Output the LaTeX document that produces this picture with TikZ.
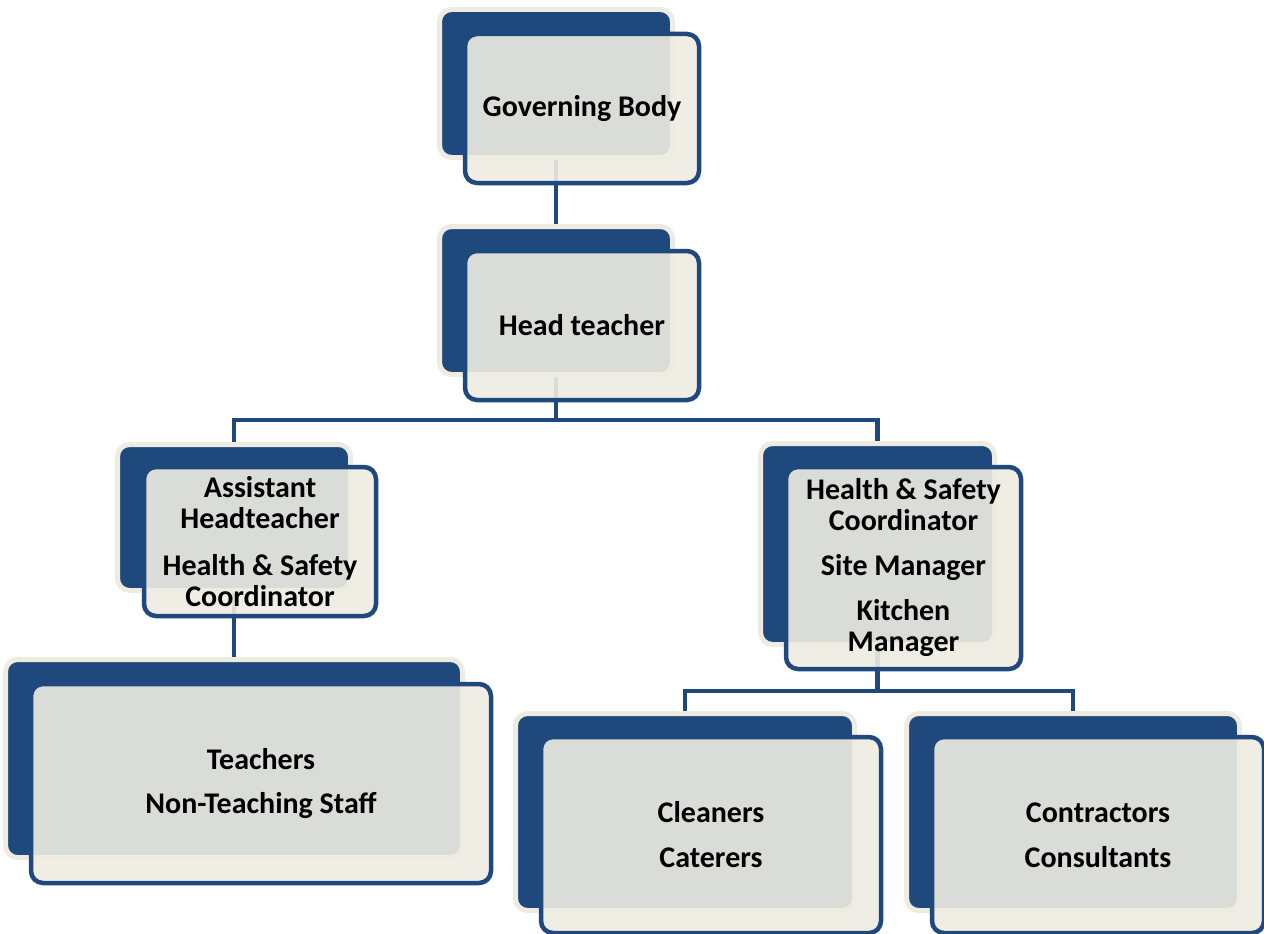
\documentclass[tikz,border=0pt]{standalone}
\usepackage{fontspec}
\setmainfont{Carlito}
\usetikzlibrary{backgrounds}
\definecolor{darkblue}{HTML}{1F497D}
\definecolor{cream}{HTML}{EEECE1}

\begin{document}
\begin{tikzpicture}[x=1pt,y=-1pt,
  back node/.style={draw=cream,line width=5pt,fill=darkblue,rounded corners=12pt,inner sep=0pt},
  front node/.style={draw=darkblue,line width=4.5pt,fill=cream,fill opacity=0.9,text opacity=1,rounded corners=12pt,inner sep=0pt,align=center,font=\fontsize{30}{31}\selectfont\bfseries},
  link/.style={draw=darkblue,line width=4.5pt}]
\useasboundingbox (0,0) rectangle (1264,934);

% top levels
\node[back node,minimum width=233pt,minimum height=148pt] (govback) at (556,83.5) {};
\node[front node,minimum width=234pt,minimum height=149pt] (gov) at ([shift={(26,25)}]govback.center) {Governing Body};
\node[back node,minimum width=233pt,minimum height=148pt] (headback) at (556,300.5) {};
\node[front node,minimum width=234pt,minimum height=149pt] (head) at ([shift={(26,25)}]headback.center) {Head teacher};

% middle level
\node[back node,minimum width=233pt,minimum height=146pt] (asstback) at (234,517.5) {};
\node[front node,minimum width=232pt,minimum height=149pt] (asst) at ([shift={(26,24)}]asstback.center)
  {Assistant\\Headteacher\\[16pt]Health \& Safety\\Coordinator};
\node[back node,minimum width=234pt,minimum height=201pt] (safeback) at (877.5,544) {};
\node[front node,minimum width=235pt,minimum height=202pt] (safe) at ([shift={(26,24)}]safeback.center)
  {Health \& Safety\\Coordinator\\[14pt]Site Manager\\[14pt]Kitchen\\Manager};

% bottom level
\node[back node,minimum width=457pt,minimum height=198pt] (staffback) at (234,758.5) {};
\node[front node,minimum width=460pt,minimum height=199pt] (staff) at ([shift={(27,25)}]staffback.center)
  {Teachers\\[13pt]Non-Teaching Staff};
\node[back node,minimum width=339pt,minimum height=197pt] (cleanback) at (685,812) {};
\node[front node,minimum width=340pt,minimum height=196pt] (clean) at ([shift={(26,23)}]cleanback.center)
  {Cleaners\\[14pt]Caterers};
\node[back node,minimum width=333pt,minimum height=197pt] (contrback) at (1073,812) {};
\node[front node,minimum width=332pt,minimum height=196pt] (contr) at ([shift={(25,23)}]contrback.center)
  {Contractors\\[14pt]Consultants};

\coordinate (split1) at (headback.center |- 0,420);
\coordinate (split2) at (safeback.center |- 0,691);

\begin{pgfonlayer}{background}
  \path[link]
    (govback) -- (headback)
    (headback) -- (split1) -| (asstback)
    (split1) -| (safeback)
    (asstback) -- (staffback)
    (safeback) -- (split2) -| (cleanback)
    (split2) -| (contrback)
    ;
\end{pgfonlayer}
\end{tikzpicture}
\end{document}
